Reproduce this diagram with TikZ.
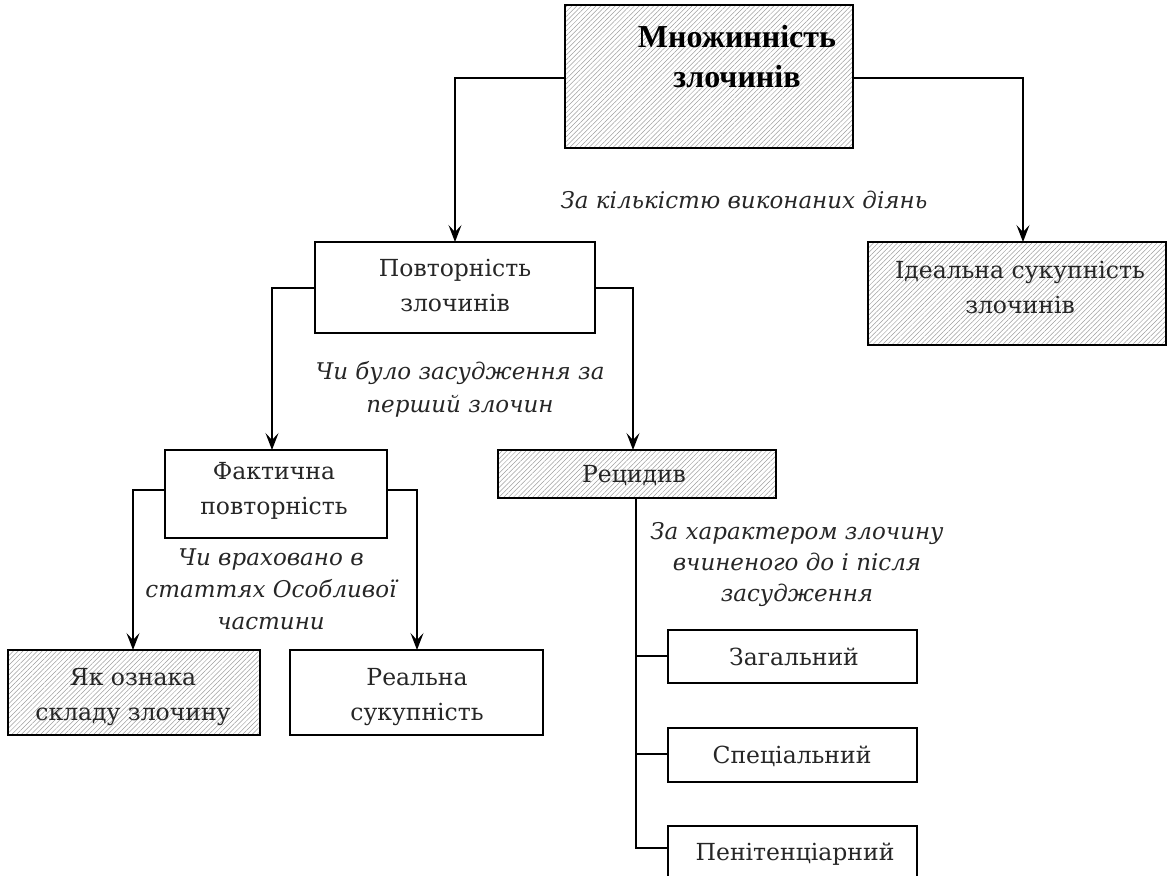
\documentclass[tikz,border=0pt]{standalone}
\usepackage{fontspec}
\setmainfont{DejaVu Serif}
\newfontfamily\titlefont{Liberation Serif}
\usetikzlibrary{patterns,patterns.meta,arrows.meta}
\tikzset{
  box/.style={draw=black, line width=1.3pt, rectangle, inner sep=0pt},
  hatched/.style={pattern={Lines[angle=45,distance=3.4pt,line width=0.5pt]}, pattern color=black!38},
  lbl/.style={font=\fontsize{23.5}{35}\selectfont, align=center, inner sep=0pt, text=black!85},
  ilbl/.style={font=\fontsize{23}{33}\selectfont\itshape, align=center, inner sep=0pt, text=black!85},
  conn/.style={line width=1.3pt},
  arr/.style={conn, -{Stealth[length=17pt,width=13pt,inset=7pt]}},
}
\begin{document}
\begin{tikzpicture}[x=1pt,y=-1pt]
\useasboundingbox (0,0) rectangle (1168,876);
\clip (0,0) rectangle (1168,876);
% boxes
\draw[box,hatched] (565,5) rectangle (853,148);
\coordinate (topL) at (565,78);
\coordinate (topR) at (853,78);
\node[lbl,font=\titlefont\bfseries\fontsize{32}{40}\selectfont,text=black] (title) at (737,57) {Множинність\\злочинів};

\draw[box] (315,242) rectangle (595,333);
\node[lbl] (povt) at (455,286) {Повторність\\злочинів};
\coordinate (povtT) at (455,242);
\coordinate (povtL) at (315,288);
\coordinate (povtR) at (595,288);

\draw[box,hatched] (868,242) rectangle (1166,345);
\node[lbl] (ideal) at (1020,288) {Ідеальна сукупність\\злочинів};
\coordinate (idealT) at (1023,242);

\draw[box] (165,450) rectangle (387,538);
\node[lbl] (fakt) at (274,491) {Фактична\\повторність};
\coordinate (faktT) at (272,450);
\coordinate (faktL) at (165,490);
\coordinate (faktR) at (387,490);

\draw[box,hatched] (498,450) rectangle (776,498);
\node[lbl,anchor=base] (rec) at (634,482) {Рецидив};
\coordinate (recT) at (633,450);
\coordinate (recB) at (636,498);

\draw[box,hatched] (8,650) rectangle (260,735);
\node[lbl] (yak) at (133,697) {Як ознака\\складу злочину};
\coordinate (yakT) at (133,650);

\draw[box] (290,650) rectangle (543,735);
\node[lbl] (real) at (417,697) {Реальна\\сукупність};
\coordinate (realT) at (417,650);

\draw[box] (668,630) rectangle (917,683);
\node[lbl,anchor=base] (zag) at (794,665) {Загальний};
\coordinate (zagL) at (668,656);

\draw[box] (668,728) rectangle (917,782);
\node[lbl,anchor=base] (spec) at (792,763) {Спеціальний};
\coordinate (specL) at (668,754);

\draw[box] (668,826) rectangle (917,890);
\node[lbl,anchor=base] (pen) at (795,860) {Пенітенціарний};
\coordinate (penL) at (668,848);

% labels
\node[ilbl,anchor=base] (l1) at (744,208) {За кількістю виконаних діянь};
\node[ilbl] (l2) at (460,389) {Чи було засудження за\\перший злочин};
\node[ilbl,font=\fontsize{23}{32}\selectfont\itshape] (l3) at (271,589) {Чи враховано в\\статтях Особливої\\частини};
\node[ilbl,font=\fontsize{23}{31}\selectfont\itshape] (l4) at (797,565) {За характером злочину\\вчиненого до і після\\засудження};

% connectors
\draw[arr] (topL) -| (povtT);
\draw[arr] (topR) -| (idealT);
\draw[arr] (povtL) -| (faktT);
\draw[arr] (povtR) -| (recT);
\draw[arr] (faktL) -| (yakT);
\draw[arr] (faktR) -| (realT);
\draw[conn] (recB) |- (penL);
\draw[conn] (recB |- zagL) -- (zagL);
\draw[conn] (recB |- specL) -- (specL);
\end{tikzpicture}
\end{document}
